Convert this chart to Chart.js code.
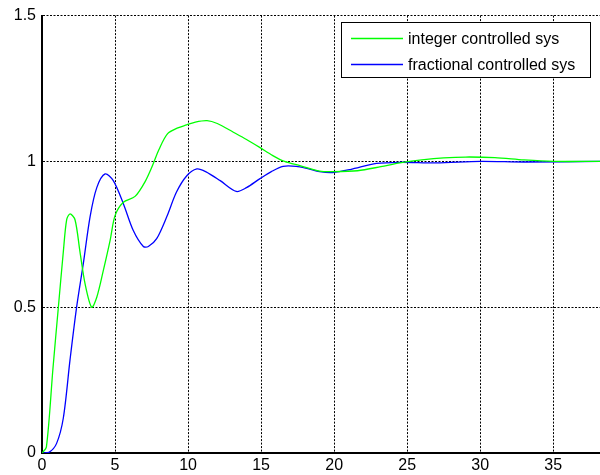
<!DOCTYPE html>
<html>
<head>
<meta charset="utf-8">
<script src="https://cdn.jsdelivr.net/npm/chart.js@4.4.0/dist/chart.umd.min.js"></script>
<style>
  html, body { margin: 0; padding: 0; background: #fff; }
  #wrap { width: 600px; height: 475px; }
</style>
</head>
<body>
<div id="wrap"><canvas id="stepChart"></canvas></div>
<script>
// step responses
const seriesNames = ["integer controlled sys", "fractional controlled sys"];

const intTime = [0, 0.3, 0.75, 1.12, 1.46, 1.69, 1.92, 2.26, 2.6, 2.95, 3.4, 3.75, 4.2, 4.66, 5.0,
  5.57, 6.37, 7.05, 7.6, 8.0, 8.6, 9.3, 9.9, 10.5, 11.3, 12.0, 13.1, 14.0, 14.9, 15.8, 16.6,
  17.7, 19.0, 19.9, 21.6, 23.2, 24.5, 26, 27.5, 29, 31, 33, 35, 38.2];
const intValues = [0, 0.02, 0.29, 0.5, 0.69, 0.8, 0.82, 0.8, 0.69, 0.58, 0.5, 0.534, 0.626, 0.728, 0.814,
  0.86, 0.88, 0.93, 0.99, 1.04, 1.095, 1.115, 1.125, 1.135, 1.14, 1.13, 1.1, 1.075, 1.048, 1.02, 1.0,
  0.985, 0.967, 0.965, 0.968, 0.982, 0.995, 1.005, 1.012, 1.015, 1.013, 1.005, 1.0, 1.0];

const fracTime = [0, 0.5, 1.0, 1.46, 1.92, 2.37, 2.83, 3.29, 3.75, 4.32, 4.88, 5.57, 6.25, 6.94, 7.28,
  7.85, 8.54, 9.2, 9.9, 10.6, 11.2, 12.2, 13.3, 14.0, 14.9, 15.7, 16.5, 17.4, 18.2, 19.0, 19.9,
  21.1, 22.9, 24.5, 27, 30, 33, 38.2];
const fracValues = [0, 0.003, 0.033, 0.12, 0.32, 0.5, 0.65, 0.81, 0.91, 0.957, 0.934, 0.855, 0.763, 0.708, 0.708,
  0.735, 0.81, 0.894, 0.95, 0.974, 0.965, 0.934, 0.897, 0.91, 0.94, 0.965, 0.983, 0.983, 0.975, 0.965, 0.962,
  0.972, 0.993, 0.997, 0.995, 1.0, 0.998, 1.0];

const xMax = 38.2;
const fontFam = "'Liberation Sans', Arial, sans-serif";

function toPoints(xs, ys) {
  return xs.map((x, i) => ({ x: x, y: ys[i] }));
}

// boxed legend in the upper right of the plot
const boxLegend = {
  id: "boxLegend",
  afterDraw(chart) {
    const ctx = chart.ctx;
    const bx = 341.5, by = 22.5, bw = 249, bh = 55;
    ctx.save();
    ctx.fillStyle = "#fff";
    ctx.fillRect(bx, by, bw, bh);
    ctx.strokeStyle = "#000";
    ctx.lineWidth = 1;
    ctx.strokeRect(bx, by, bw, bh);
    ctx.font = "16px " + fontFam;
    ctx.textBaseline = "middle";
    chart.data.datasets.forEach((ds, i) => {
      const y = by + 16 + i * 26;
      ctx.strokeStyle = ds.borderColor;
      ctx.lineWidth = 1.3;
      ctx.beginPath();
      ctx.moveTo(351, y);
      ctx.lineTo(403, y);
      ctx.stroke();
      ctx.fillStyle = "#000";
      ctx.fillText(ds.label, 408, y + 1);
    });
    ctx.restore();
  },
};

new Chart(document.getElementById("stepChart"), {
  type: "line",
  data: {
    datasets: [
      {
        label: seriesNames[0],
        data: toPoints(intTime, intValues),
        borderColor: "#00ff00",
        borderWidth: 1.3,
        pointRadius: 0,
        tension: 0.3,
        fill: false,
      },
      {
        label: seriesNames[1],
        data: toPoints(fracTime, fracValues),
        borderColor: "#0000ff",
        borderWidth: 1.3,
        pointRadius: 0,
        tension: 0.3,
        fill: false,
      },
    ],
  },
  options: {
    responsive: true,
    maintainAspectRatio: false,
    animation: false,
    layout: { padding: { top: 15, right: 0, left: 0, bottom: 0 } },
    plugins: {
      legend: { display: false },
      tooltip: { enabled: false },
    },
    scales: {
      x: {
        type: "linear",
        min: 0,
        max: xMax,
        afterFit: (s) => { s.height = 22; },
        ticks: {
          stepSize: 5,
          includeBounds: false,
          color: "#000",
          padding: 3,
          maxRotation: 0,
          font: { family: fontFam, size: 16 },
        },
        grid: { color: "#000", lineWidth: 1, drawTicks: false },
        border: { color: "#000", width: 2, dash: [2, 1.5] },
      },
      y: {
        min: 0,
        max: 1.5,
        afterFit: (s) => { s.width = 42; },
        ticks: {
          stepSize: 0.5,
          color: "#000",
          padding: 6,
          font: { family: fontFam, size: 16 },
          callback: (v) => String(v),
        },
        grid: { color: "#000", lineWidth: 1, drawTicks: false },
        border: { color: "#000", width: 2, dash: [2, 1.5] },
      },
    },
  },
  plugins: [boxLegend],
});
</script>
</body>
</html>
